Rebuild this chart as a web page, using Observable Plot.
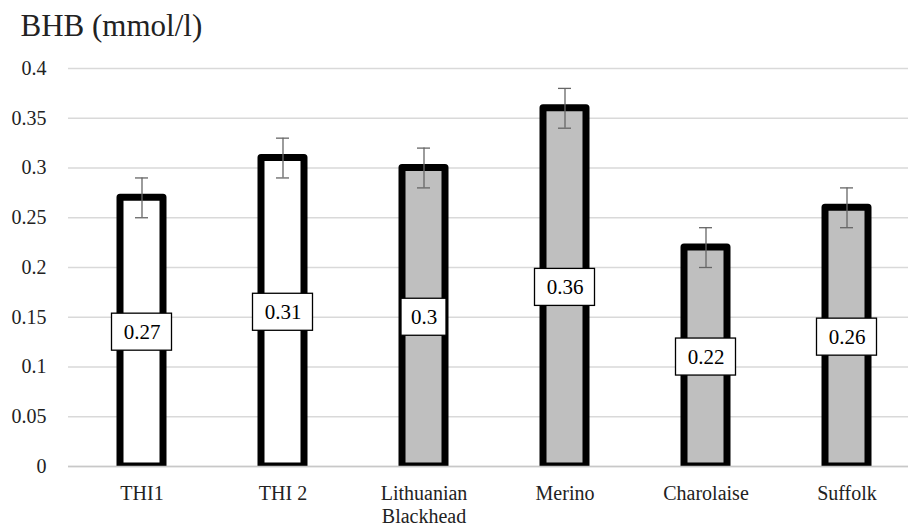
<!DOCTYPE html>
<html>
<head>
<meta charset="utf-8">
<script src="https://cdn.jsdelivr.net/npm/d3@7"></script>
<script src="https://cdn.jsdelivr.net/npm/@observablehq/plot@0.6"></script>
<style>
  html, body { margin: 0; padding: 0; background: #fff; }
  #chart svg { display: block; }
  #chart svg text { font-family: "Liberation Serif", "Times New Roman", "DejaVu Serif", serif; }
</style>
</head>
<body>
<div id="chart"></div>
<script>
const title = "BHB (mmol/l)";
const categories = ["THI1", "THI 2", "Lithuanian\nBlackhead", "Merino", "Charolaise", "Suffolk"];
const values = [0.27, 0.31, 0.30, 0.36, 0.22, 0.26];
const errors = [0.02, 0.02, 0.02, 0.02, 0.02, 0.02];
const groups = ["THI", "THI", "breed", "breed", "breed", "breed"];
const labels = ["0.27", "0.31", "0.3", "0.36", "0.22", "0.26"];
const yTicks = [0, 0.05, 0.1, 0.15, 0.2, 0.25, 0.3, 0.35, 0.4];

const data = categories.map((c, i) => ({
  cat: c, v: values[i], e: errors[i], g: groups[i], label: labels[i]
}));

const fills = {THI: "#ffffff", breed: "#bfbfbf"};
const serif = "Liberation Serif, Times New Roman, DejaVu Serif, serif";
const boxHalf = 0.0186;

const lengths = [...new Set(labels.map(l => l.length))];
const boxMarks = lengths.map(len => Plot.barY(data.filter(d => d.label.length === len), {
  x: "cat",
  y1: d => d.v / 2 - boxHalf,
  y2: d => d.v / 2 + boxHalf,
  fill: "white",
  stroke: "black",
  strokeWidth: 1.3,
  insetLeft: len === 4 ? -8.5 : -1,
  insetRight: len === 4 ? -8.5 : -1
}));

const chart = Plot.plot({
  width: 910,
  height: 530,
  marginTop: 68,
  marginBottom: 64,
  marginLeft: 68,
  marginRight: 2,
  style: {fontFamily: serif, background: "white"},
  x: {domain: categories, range: [70.5, 917.5], paddingInner: 0.695, paddingOuter: 0.3475},
  y: {domain: [0, 0.4], range: [466, 68]},
  marks: [
    Plot.ruleY(yTicks, {stroke: "#d9d9d9", strokeWidth: 1.3}),
    Plot.barY(data, {
      x: "cat", y: "v",
      fill: d => fills[d.g],
      stroke: "black",
      strokeWidth: 7,
      strokeLinejoin: "round",
      clip: "frame"
    }),
    Plot.ruleY([0], {stroke: "#c8c8c8", strokeWidth: 1.5}),
    Plot.ruleX(data, {x: "cat", y1: d => d.v - d.e, y2: d => d.v + d.e, stroke: "#666", strokeWidth: 1.3}),
    Plot.tickY(data, {x: "cat", y: d => d.v - d.e, stroke: "#666", strokeWidth: 1.3, insetLeft: 15, insetRight: 15}),
    Plot.tickY(data, {x: "cat", y: d => d.v + d.e, stroke: "#666", strokeWidth: 1.3, insetLeft: 15, insetRight: 15}),
    ...boxMarks,
    Plot.text(data, {x: "cat", y: d => d.v / 2, text: "label", fontSize: 21, fill: "black", fontFamily: serif}),
    Plot.axisY({
      ticks: yTicks, tickSize: 0, tickPadding: 22,
      tickFormat: d => String(+d.toFixed(2)),
      fontSize: 20, fill: "#222", label: null
    }),
    Plot.axisX({
      tickSize: 0, tickPadding: 17, fontSize: 20, fill: "#222",
      lineHeight: 1.15, label: null
    }),
    Plot.text([title], {
      frameAnchor: "top-left", dx: -48, dy: -42, lineAnchor: "middle",
      textAnchor: "start", fontSize: 31, fill: "#222", fontFamily: serif
    })
  ]
});

document.getElementById("chart").appendChild(chart);
</script>
</body>
</html>
